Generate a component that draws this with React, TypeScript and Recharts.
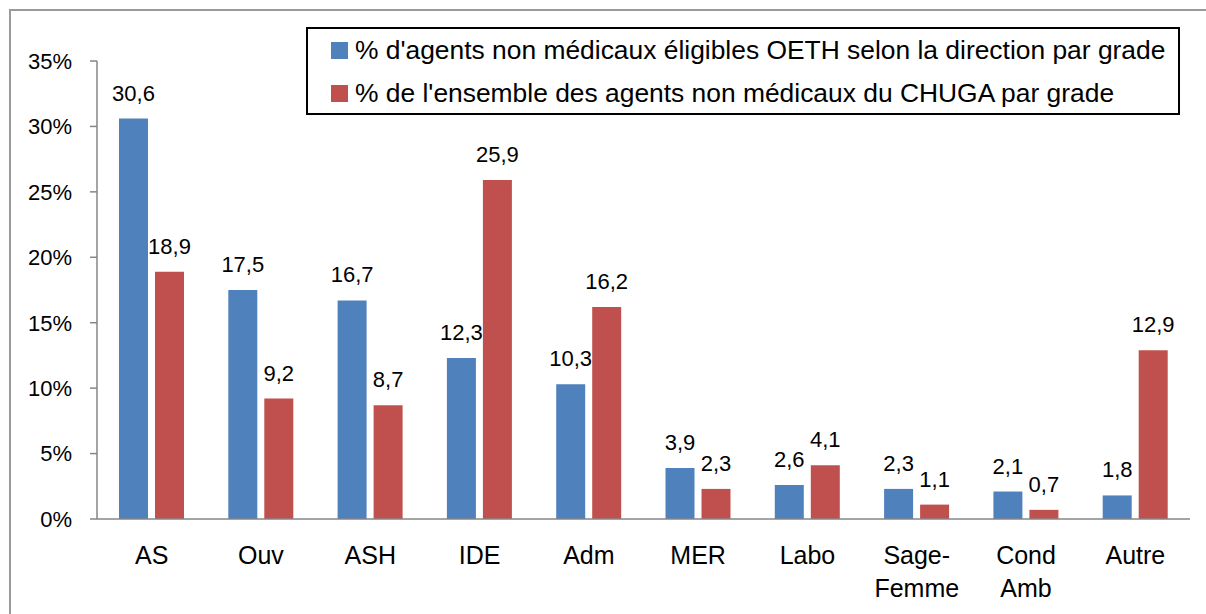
import { Bar, BarChart, LabelList, XAxis, YAxis } from 'recharts';

const categories = ['AS', 'Ouv', 'ASH', 'IDE', 'Adm', 'MER', 'Labo', 'Sage-Femme', 'Cond Amb', 'Autre'];
const oethShare = [30.6, 17.5, 16.7, 12.3, 10.3, 3.9, 2.6, 2.3, 2.1, 1.8];
const chugaShare = [18.9, 9.2, 8.7, 25.9, 16.2, 2.3, 4.1, 1.1, 0.7, 12.9];
const yTicks = [0, 5, 10, 15, 20, 25, 30, 35];

const seriesNames = [
  "% d'agents non médicaux éligibles OETH selon la direction par grade",
  "% de l'ensemble des agents non médicaux du CHUGA par grade",
];
const BLUE = '#4F81BD';
const RED = '#C0504D';
const FONT = '"Liberation Sans", Arial, sans-serif';

const data = categories.map((name, i) => ({ name, oeth: oethShare[i], chuga: chugaShare[i] }));

const fmt = (v: any) => Number(v).toFixed(1).replace('.', ',');

function CategoryTick({ x, y, payload }: any) {
  const lines = String(payload.value).replace('-', '- ').split(' ');
  return (
    <text x={x} y={y} textAnchor="middle" fill="#000" fontSize={25} fontFamily={FONT}>
      {lines.map((l, i) => (
        <tspan key={i} x={x} dy={i === 0 ? 37 : 33}>
          {l}
        </tspan>
      ))}
    </text>
  );
}

function LegendBox() {
  const colors = [BLUE, RED];
  return (
    <div
      style={{
        position: 'absolute',
        left: 306,
        top: 27,
        border: '2px solid #000',
        width: 874,
        height: 88,
        boxSizing: 'border-box',
        padding: '0 0 0 23px',
        fontFamily: FONT,
        fontSize: 26.4,
        background: '#fff',
      }}
    >
      {seriesNames.map((n, i) => (
        <div key={n} style={{ display: 'flex', alignItems: 'center', height: 43, whiteSpace: 'nowrap' }}>
          <span style={{ width: 17, height: 17, background: colors[i], marginRight: 7, display: 'inline-block' }} />
          {n}
        </div>
      ))}
    </div>
  );
}

export default function App() {
  return (
    <div style={{ position: 'fixed', left: 0, top: 0, width: 1206, height: 614, background: '#fff', overflow: 'hidden' }}>
      <div
        style={{
          position: 'absolute',
          left: 9,
          top: 9,
          width: 1300,
          height: 700,
          borderLeft: '2px solid #9a9a9a',
          borderTop: '2px solid #9a9a9a',
        }}
      />
      <BarChart
        width={1206}
        height={614}
        data={data}
        margin={{ top: 61, right: 16, bottom: 0, left: 0 }}
        barSize={29}
        barGap={7}
        style={{ position: 'absolute', left: 0, top: 0 }}
      >
        <XAxis
          dataKey="name"
          tickLine={false}
          axisLine={{ stroke: '#868686', strokeWidth: 1.5 }}
          tick={<CategoryTick />}
          interval={0}
          height={95}
        />
        <YAxis
          domain={[0, 35]}
          ticks={yTicks}
          width={97}
          tickFormatter={(v: number) => `${v}%`}
          tickSize={7}
          tickMargin={18}
          axisLine={{ stroke: '#868686', strokeWidth: 1.5 }}
          tickLine={{ stroke: '#868686', strokeWidth: 1.5 }}
          tick={{ fill: '#000', fontSize: 22, fontFamily: FONT }}
        />
        <Bar dataKey="oeth" name={seriesNames[0]} fill={BLUE} isAnimationActive={false}>
          <LabelList dataKey="oeth" position="top" offset={18} formatter={fmt} fill="#000" fontSize={22} fontFamily={FONT} />
        </Bar>
        <Bar dataKey="chuga" name={seriesNames[1]} fill={RED} isAnimationActive={false}>
          <LabelList dataKey="chuga" position="top" offset={18} formatter={fmt} fill="#000" fontSize={22} fontFamily={FONT} />
        </Bar>
      </BarChart>
      <LegendBox />
    </div>
  );
}
